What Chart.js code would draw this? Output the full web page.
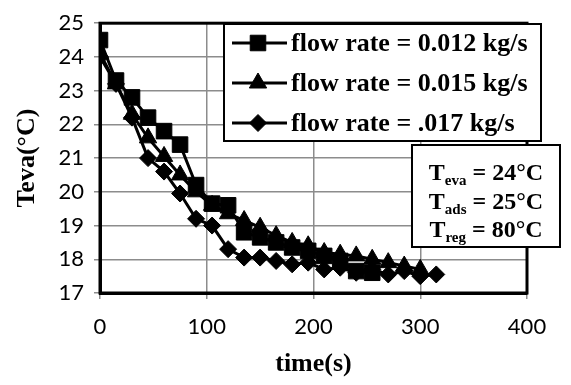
<!DOCTYPE html>
<html><head><meta charset="utf-8">
<script src="https://cdn.jsdelivr.net/npm/chart.js@4/dist/chart.umd.min.js"></script>
<style>html,body{margin:0;padding:0;background:#fff}#wrap{width:571px;height:385px}</style>
</head><body><div id="wrap"><canvas id="c" width="571" height="385"></canvas></div>
<script>
// ---- data ----
const seriesLabels = ["flow rate = 0.012 kg/s", "flow rate = 0.015 kg/s", "flow rate = .017 kg/s"];
const pointStyles = ["rect", "triangle", "rectRot"];
const time012 = [0,15,30,45,60,75,90,105,120,135,150,165,180,195,210,225,240,255];
const teva012 = [24.5,23.3,22.8,22.2,21.8,21.4,20.2,19.65,19.6,18.8,18.65,18.5,18.35,18.25,18.1,17.95,17.65,17.6];
const time015 = [0,15,30,45,60,75,90,105,120,135,150,165,180,195,210,225,240,255,270,285,300];
const teva015 = [24.1,23.2,22.3,21.6,21.05,20.5,20.0,19.6,19.35,19.15,18.95,18.7,18.5,18.4,18.2,18.15,18.1,18.0,17.9,17.8,17.7];
const time017 = [0,15,30,45,60,75,90,105,120,135,150,165,180,195,210,225,240,255,270,285,300,315];
const teva017 = [24.0,23.2,22.2,21.0,20.6,19.95,19.2,19.0,18.3,18.05,18.05,17.95,17.85,17.9,17.7,17.75,17.6,17.7,17.55,17.65,17.5,17.55];
const xTickValues = [0,100,200,300,400];
const yTickValues = [17,18,19,20,21,22,23,24,25];
const xTitle = "time(s)";
const yTitle = "Teva(°C)";
const conditionLines = [["T","eva"," = 24°C"],["T","ads"," = 25°C"],["T","reg"," = 80°C"]];

const times = [time012, time015, time017];
const tevas = [teva012, teva015, teva017];
const radii = [11, 10, 8.5];

const serif = "'Liberation Serif', 'Times New Roman', serif";
const tickFont = "Lato, 'Open Sans', sans-serif";

const datasets = seriesLabels.map((lab, i) => ({
  label: lab,
  data: times[i].map((t, j) => ({x: t, y: tevas[i][j]})),
  borderColor: '#000', backgroundColor: '#000',
  borderWidth: 3, pointStyle: pointStyles[i], pointRadius: radii[i],
  pointBackgroundColor: '#000', pointBorderColor: '#000', pointBorderWidth: 1,
  tension: 0, fill: false
}));

function drawMarker(ctx, style, r, x, y) {
  if (Chart.helpers && Chart.helpers.drawPoint) {
    ctx.fillStyle = '#000'; ctx.strokeStyle = '#000'; ctx.lineWidth = 1;
    Chart.helpers.drawPoint(ctx, {pointStyle: style, radius: r, borderWidth: 1, rotation: 0}, x, y);
    return;
  }
  ctx.beginPath();
  if (style === 'rect') { const s = r*Math.SQRT1_2; ctx.rect(x-s, y-s, 2*s, 2*s); }
  else if (style === 'triangle') { ctx.moveTo(x, y-r); ctx.lineTo(x+r*0.866, y+r/2); ctx.lineTo(x-r*0.866, y+r/2); ctx.closePath(); }
  else { ctx.moveTo(x-r, y); ctx.lineTo(x, y-r); ctx.lineTo(x+r, y); ctx.lineTo(x, y+r); ctx.closePath(); }
  ctx.fillStyle = '#000'; ctx.fill();
}

const decor = {
  id: 'decor',
  afterDatasetsDraw(chart) {
    const ctx = chart.ctx, a = chart.chartArea;
    ctx.save();
    // plot border
    ctx.strokeStyle = '#000'; ctx.lineWidth = 3;
    ctx.strokeRect(a.left, a.top, a.right - a.left, a.bottom - a.top);
    // legend box
    const lx = 224, ly = 24, lw = 317, lh = 117;
    ctx.fillStyle = '#fff'; ctx.fillRect(lx, ly, lw, lh);
    ctx.lineWidth = 2; ctx.strokeStyle = '#000'; ctx.strokeRect(lx, ly, lw, lh);
    ctx.font = "bold 26px " + serif; ctx.textBaseline = 'middle'; ctx.textAlign = 'left';
    seriesLabels.forEach((lab, i) => {
      const cy = ly + 19 + i * 40;
      ctx.beginPath(); ctx.lineWidth = 3; ctx.strokeStyle = '#000';
      ctx.moveTo(lx + 8, cy); ctx.lineTo(lx + 63, cy); ctx.stroke();
      drawMarker(ctx, pointStyles[i], radii[i], lx + 34, cy);
      ctx.fillStyle = '#000';
      ctx.fillText(lab, lx + 67, cy + 1);
    });
    // conditions box
    const bx = 412, by = 145, bw = 148, bh = 102;
    ctx.fillStyle = '#fff'; ctx.fillRect(bx, by, bw, bh);
    ctx.lineWidth = 2; ctx.strokeStyle = '#000'; ctx.strokeRect(bx, by, bw, bh);
    ctx.fillStyle = '#000'; ctx.textBaseline = 'alphabetic';
    conditionLines.forEach((ln, i) => {
      const base = by + 35 + i * 28.5;
      ctx.font = "bold 24px " + serif; const w1 = ctx.measureText(ln[0]).width;
      ctx.font = "bold 15px " + serif; const w2 = ctx.measureText(ln[1]).width;
      ctx.font = "bold 24px " + serif; const w3 = ctx.measureText(ln[2]).width;
      let x = bx + (bw - (w1 + w2 + w3)) / 2;
      ctx.fillText(ln[0], x, base); x += w1;
      ctx.font = "bold 15px " + serif; ctx.fillText(ln[1], x, base + 5); x += w2;
      ctx.font = "bold 24px " + serif; ctx.fillText(ln[2], x, base);
    });
    ctx.restore();
  }
};

new Chart(document.getElementById('c'), {
  type: 'line',
  data: { datasets },
  plugins: [decor],
  options: {
    responsive: false, animation: false, devicePixelRatio: 1,
    layout: { padding: { left: 0, top: 17, right: 44, bottom: 0 } },
    plugins: { legend: { display: false }, tooltip: { enabled: false } },
    scales: {
      x: {
        type: 'linear', min: 0, max: 400,
        afterBuildTicks: s => { s.ticks = xTickValues.map(v => ({value: v})); },
        afterFit: s => { s.height = 92; },
        ticks: { color: '#000', font: { family: tickFont, size: 22 }, padding: 15, maxRotation: 0 },
        grid: { color: '#8c8c8c', lineWidth: 1.5, tickLength: 6 },
        border: { color: '#000', width: 3 },
        title: { display: true, text: xTitle, color: '#000', font: { family: serif, size: 26, weight: 'bold' }, padding: { top: 2, bottom: 5 } }
      },
      y: {
        min: 17, max: 25,
        afterBuildTicks: s => { s.ticks = yTickValues.map(v => ({value: v})); },
        afterFit: s => { s.width = 100; },
        ticks: { color: '#000', font: { family: tickFont, size: 22 }, padding: 10 },
        grid: { color: '#8c8c8c', lineWidth: 1.5, tickLength: 6 },
        border: { color: '#000', width: 3 },
        title: { display: true, text: yTitle, color: '#000', font: { family: serif, size: 26, weight: 'bold' }, padding: { top: 12, bottom: 0 } }
      }
    }
  }
});
</script></body></html>
